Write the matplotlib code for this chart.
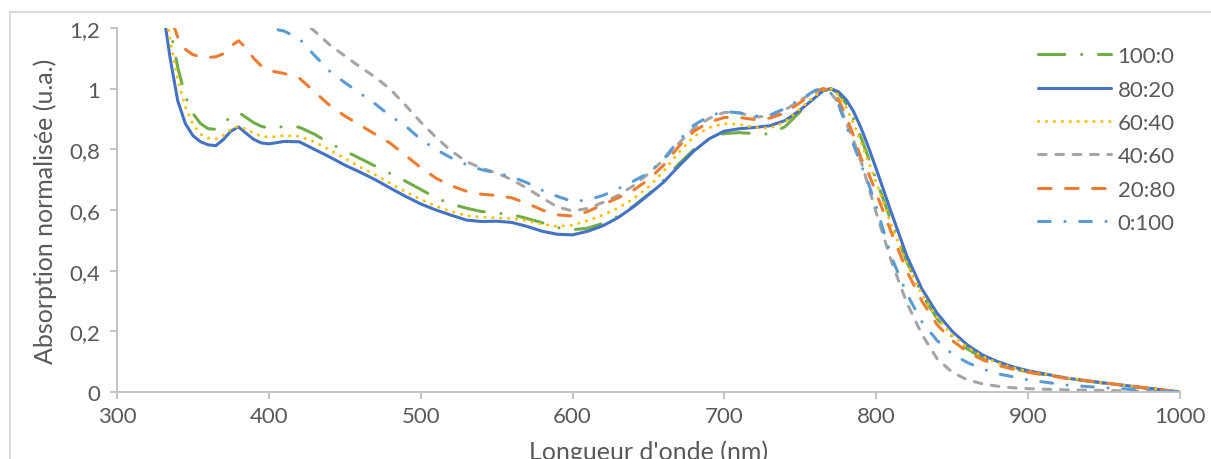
import numpy as np
import matplotlib
matplotlib.use("Agg")
import matplotlib.pyplot as plt
from matplotlib.lines import Line2D

plt.rcParams['font.family'] = ['Lato', 'DejaVu Sans']
plt.rcParams['lines.scale_dashes'] = False

# wavelengths (nm) shared by 100:0, 80:20, 60:40 and 20:80
wl = [325, 330, 335, 340, 345, 350, 355, 360, 365, 370, 375, 380, 385, 390, 395, 400,
      410, 420, 430, 440, 450, 460, 470, 480, 490, 500, 510, 520, 530, 540, 550, 560,
      570, 580, 590, 600, 610, 620, 630, 640, 650, 660, 670, 680, 690, 700, 710, 720,
      730, 740, 750, 760, 765, 770, 775, 780, 785, 790, 795, 800, 810, 820, 830, 840,
      850, 860, 870, 880, 890, 900, 925, 950, 975, 1000]

abs_100_0 = [1.70, 1.42, 1.20, 1.07, 0.975, 0.918, 0.885, 0.868, 0.866, 0.885, 0.908, 0.922,
             0.905, 0.888, 0.876, 0.870, 0.875, 0.873, 0.850, 0.820, 0.795, 0.770, 0.745,
             0.720, 0.695, 0.668, 0.640, 0.620, 0.606, 0.595, 0.590, 0.585, 0.572, 0.558,
             0.542, 0.535, 0.540, 0.556, 0.580, 0.612, 0.652, 0.698, 0.752, 0.800, 0.835,
             0.852, 0.855, 0.852, 0.850, 0.875, 0.925, 0.972, 0.992, 1.000, 0.985, 0.950,
             0.900, 0.838, 0.770, 0.700, 0.560, 0.430, 0.322, 0.242, 0.183, 0.142, 0.112,
             0.092, 0.077, 0.066, 0.045, 0.029, 0.014, 0.000]

abs_80_20 = [1.50, 1.27, 1.10, 0.96, 0.885, 0.845, 0.825, 0.815, 0.812, 0.832, 0.860, 0.874,
             0.853, 0.833, 0.821, 0.818, 0.826, 0.825, 0.800, 0.775, 0.748, 0.725, 0.700,
             0.672, 0.645, 0.620, 0.600, 0.583, 0.567, 0.562, 0.563, 0.559, 0.546, 0.530,
             0.520, 0.518, 0.530, 0.548, 0.575, 0.610, 0.650, 0.692, 0.745, 0.795, 0.835,
             0.860, 0.868, 0.872, 0.878, 0.895, 0.930, 0.972, 0.993, 1.000, 0.990, 0.965,
             0.925, 0.870, 0.805, 0.735, 0.590, 0.450, 0.340, 0.260, 0.200, 0.155, 0.122,
             0.100, 0.083, 0.070, 0.046, 0.030, 0.015, 0.000]

abs_60_40 = [1.60, 1.33, 1.16, 1.03, 0.940, 0.882, 0.850, 0.837, 0.834, 0.846, 0.866, 0.876,
             0.866, 0.853, 0.843, 0.840, 0.845, 0.843, 0.825, 0.798, 0.770, 0.742, 0.716,
             0.688, 0.660, 0.635, 0.613, 0.595, 0.582, 0.576, 0.574, 0.572, 0.565, 0.553,
             0.546, 0.550, 0.565, 0.583, 0.607, 0.637, 0.676, 0.728, 0.790, 0.843, 0.872,
             0.885, 0.882, 0.872, 0.870, 0.890, 0.935, 0.978, 0.995, 1.000, 0.980, 0.940,
             0.885, 0.823, 0.757, 0.690, 0.550, 0.425, 0.322, 0.245, 0.188, 0.147, 0.117,
             0.096, 0.080, 0.068, 0.047, 0.030, 0.015, 0.000]

abs_20_80 = [1.80, 1.45, 1.24, 1.17, 1.13, 1.112, 1.105, 1.103, 1.105, 1.115, 1.140, 1.158,
             1.135, 1.100, 1.075, 1.060, 1.050, 1.035, 0.990, 0.945, 0.910, 0.880, 0.850,
             0.820, 0.780, 0.740, 0.705, 0.680, 0.662, 0.652, 0.648, 0.640, 0.622, 0.600,
             0.584, 0.580, 0.595, 0.618, 0.640, 0.665, 0.700, 0.748, 0.810, 0.860, 0.890,
             0.905, 0.905, 0.898, 0.903, 0.920, 0.955, 0.990, 1.000, 0.995, 0.965, 0.910,
             0.845, 0.770, 0.720, 0.655, 0.525, 0.400, 0.300, 0.222, 0.170, 0.132, 0.106,
             0.088, 0.075, 0.065, 0.045, 0.030, 0.015, 0.000]

wl_40_60 = [420, 425, 430, 440, 450, 460, 470, 480, 490, 500, 510, 520, 530, 540, 550, 560,
            570, 580, 590, 600, 610, 620, 630, 640, 650, 660, 670, 680, 690, 700, 710, 720,
            730, 740, 750, 760, 765, 770, 775, 780, 785, 790, 795, 800, 810, 820, 830, 840,
            850, 860, 870, 880, 890, 900, 925, 950, 975, 1000]
abs_40_60 = [1.24, 1.21, 1.19, 1.145, 1.108, 1.072, 1.038, 0.998, 0.945, 0.890, 0.840, 0.795,
             0.760, 0.738, 0.722, 0.700, 0.672, 0.640, 0.610, 0.597, 0.605, 0.625, 0.648,
             0.680, 0.720, 0.765, 0.820, 0.870, 0.902, 0.922, 0.920, 0.906, 0.910, 0.930,
             0.962, 0.992, 1.000, 0.985, 0.955, 0.890, 0.830, 0.760, 0.675, 0.590, 0.430,
             0.295, 0.190, 0.110, 0.065, 0.040, 0.027, 0.019, 0.014, 0.011, 0.007, 0.005,
             0.003, 0.000]

wl_0_100 = [380, 390, 400, 410, 420, 430, 440, 450, 460, 470, 480, 490, 500, 510, 520, 530,
            540, 550, 560, 570, 580, 590, 600, 610, 620, 630, 640, 650, 660, 670, 680, 690,
            700, 710, 720, 730, 740, 750, 760, 765, 770, 775, 780, 785, 790, 795, 800, 810,
            820, 830, 840, 850, 860, 870, 880, 890, 900, 925, 950, 975, 1000]
abs_0_100 = [1.23, 1.215, 1.20, 1.19, 1.165, 1.11, 1.058, 1.020, 0.985, 0.950, 0.910, 0.877,
             0.833, 0.800, 0.772, 0.750, 0.733, 0.722, 0.710, 0.690, 0.665, 0.645, 0.628,
             0.633, 0.648, 0.670, 0.695, 0.722, 0.768, 0.830, 0.880, 0.910, 0.925, 0.920,
             0.910, 0.913, 0.935, 0.965, 0.995, 1.000, 0.985, 0.950, 0.880, 0.815, 0.750,
             0.685, 0.610, 0.445, 0.325, 0.232, 0.170, 0.125, 0.097, 0.076, 0.060, 0.050,
             0.040, 0.023, 0.014, 0.007, 0.000]

labels = ['100:0', '80:20', '60:40', '40:60', '20:80', '0:100']
colors = ['#70AD47', '#4472C4', '#FFC000', '#A5A5A5', '#ED7D31', '#5B9BD5']
styles = [(0, (19, 12, 0.1, 12)),   # long dash dot
          '-',
          (0, (0.1, 5.6)),          # round dots
          (0, (5.5, 7)),
          (0, (9, 10.5)),
          (0, (8.5, 10.5, 0.1, 10.5))]
series = [(wl, abs_100_0), (wl, abs_80_20), (wl, abs_60_40),
          (wl_40_60, abs_40_60), (wl, abs_20_80), (wl_0_100, abs_0_100)]

fig = plt.figure(figsize=(12.11, 4.6), dpi=100)
ax = fig.add_axes([117 / 1211, 1 - 393 / 460, (1180 - 117) / 1211, (393 - 29) / 460])

handles = []
for (x, y), lab, c, ls in zip(series, labels, colors, styles):
    ln, = ax.plot(x, y, color=c, lw=2.2, linestyle=ls, dash_capstyle='round',
                  solid_capstyle='round', label=lab)
    handles.append(ln)

ax.set_xlim(300, 1000)
ax.set_ylim(0, 1.2)
ax.set_xticks(np.arange(300, 1001, 100))
ax.set_yticks([0, 0.2, 0.4, 0.6, 0.8, 1.0, 1.2])
ax.set_yticklabels(['0', '0,2', '0,4', '0,6', '0,8', '1', '1,2'])

for s in ['top', 'right']:
    ax.spines[s].set_visible(False)
for s in ['left', 'bottom']:
    ax.spines[s].set_color('#BFBFBF')
    ax.spines[s].set_linewidth(1.3)
ax.tick_params(colors='#BFBFBF', labelcolor='#595959', labelsize=16,
               length=5, width=1.3, direction='out')
ax.tick_params(axis='x', pad=5)
ax.tick_params(axis='y', pad=7)

ax.set_ylabel('Absorption normalisée (u.a.)', fontsize=18, color='#595959', labelpad=9)
ax.set_xlabel("Longueur d'onde (nm)", fontsize=18, color='#595959', labelpad=10)

ax.legend(handles=handles, loc='upper left', bbox_to_anchor=(0.866, 0.95),
          frameon=False, fontsize=16, labelcolor='#595959', handlelength=3.3,
          handletextpad=0.3, labelspacing=0.6, borderaxespad=0, borderpad=0)

# light grey chart-area border (top and left edges visible in the crop)
fig.add_artist(Line2D([10 / 1211, 1], [1 - 13 / 460, 1 - 13 / 460],
                      color='#D9D9D9', lw=1.5))
fig.add_artist(Line2D([10 / 1211, 10 / 1211], [0, 1 - 13 / 460],
                      color='#D9D9D9', lw=1.5))

fig.savefig('out.png', dpi=100)
